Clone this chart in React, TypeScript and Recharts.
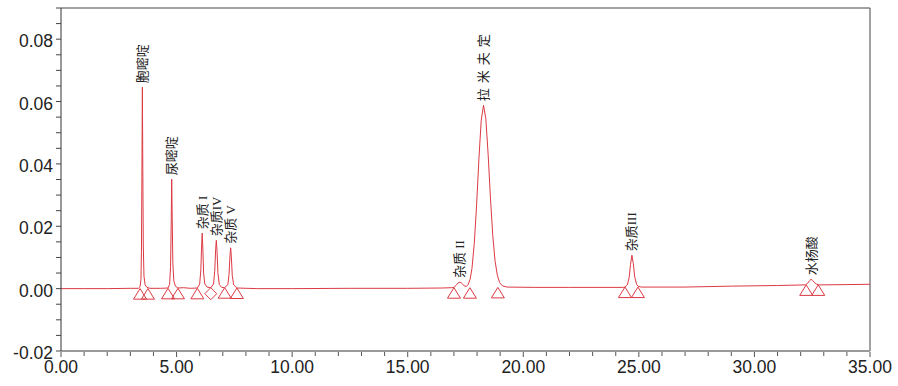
import React from "react";
import {
  ComposedChart,
  Line,
  Scatter,
  XAxis,
  YAxis,
  ReferenceLine,
} from "recharts";

// chromatogram trace: [time (min), signal (AU)]
const trace: [number, number][] = [
  [0, 0.0], [1.0, 0.0], [2.0, 0.0], [3.0, 0.0001], [3.35, 0.0001],
  [3.42, 0.0006], [3.46, 0.003], [3.48, 0.012], [3.5, 0.036], [3.52, 0.0646],
  [3.54, 0.038], [3.56, 0.014], [3.59, 0.004], [3.64, 0.0012], [3.72, 0.0004],
  [3.85, 0.0001], [4.3, 0.0001], [4.63, 0.0002], [4.7, 0.0014], [4.74, 0.007],
  [4.77, 0.022], [4.79, 0.0351], [4.81, 0.023], [4.84, 0.008], [4.88, 0.0025],
  [4.95, 0.0008], [5.06, 0.0002], [5.3, 0.0003], [5.6, 0.0001], [5.9, 0.0002],
  [6.0, 0.0015], [6.05, 0.006], [6.08, 0.013], [6.11, 0.0178], [6.14, 0.012],
  [6.17, 0.005], [6.22, 0.0015], [6.32, 0.0005], [6.48, 0.0003], [6.6, 0.0015],
  [6.65, 0.0055], [6.69, 0.0125], [6.72, 0.0155], [6.75, 0.012], [6.79, 0.0048],
  [6.85, 0.0013], [6.95, 0.0004], [7.08, 0.0003], [7.22, 0.0013], [7.27, 0.0045],
  [7.31, 0.0105], [7.34, 0.0131], [7.37, 0.0102], [7.41, 0.0042], [7.47, 0.0012],
  [7.61, 0.0002], [8.5, 0.0], [10, 0.0], [12.5, 0.0001], [15, 0.0001],
  [16.5, 0.0002], [16.9, 0.0003], [17.0, 0.0004], [17.1, 0.0011], [17.18, 0.0018],
  [17.26, 0.0021], [17.34, 0.0017], [17.44, 0.0009], [17.54, 0.0007], [17.62, 0.0014],
  [17.7, 0.003], [17.78, 0.0065], [17.88, 0.0145], [17.98, 0.0268], [18.08, 0.0415],
  [18.18, 0.054], [18.28, 0.0588], [18.38, 0.0545], [18.48, 0.043], [18.58, 0.029],
  [18.68, 0.017], [18.78, 0.0088], [18.88, 0.0042], [18.98, 0.0019], [19.1, 0.0009],
  [19.3, 0.0005], [20.5, 0.0004], [22, 0.0004], [24.3, 0.0004], [24.4, 0.0005],
  [24.5, 0.0012], [24.58, 0.0035], [24.64, 0.0078], [24.7, 0.0107], [24.76, 0.008],
  [24.82, 0.0038], [24.9, 0.0014], [24.96, 0.0008], [25.1, 0.0005], [27, 0.0005],
  [29, 0.0008], [31, 0.001], [32.2, 0.0012], [32.3, 0.0017], [32.38, 0.0025],
  [32.45, 0.003], [32.52, 0.0026], [32.6, 0.0019], [32.7, 0.0014], [32.8, 0.0012],
  [34, 0.0013], [35, 0.0014],
];

// peak labels
const peakNames = ["胞嘧啶", "尿嘧啶", "杂质 I", "杂质IV", "杂质 V", "杂质 II", "拉米夫定", "杂质III", "水杨酸"];
const peakTimes = [3.52, 4.79, 6.11, 6.72, 7.34, 17.26, 18.28, 24.7, 32.45];
const peakTops = [0.0646, 0.0351, 0.0178, 0.0155, 0.0131, 0.0021, 0.0588, 0.0107, 0.003];

// integration marks: start/end triangles, valley diamond
const markTimes = [3.42, 3.76, 4.63, 5.06, 5.9, 6.48, 7.08, 7.61, 17.0, 17.69, 18.9, 24.4, 24.96, 32.24, 32.76];
const markLevels = [0, 0, 0.0001, 0.0001, 0.0001, 0.0003, 0.0003, 0.0002, 0.0003, 0.0003, 0.0004, 0.0005, 0.0005, 0.0012, 0.0012];
const markKinds = ["t", "t", "t", "t", "t", "d", "t", "t", "t", "t", "t", "t", "t", "t", "t"];

const xTicks = Array.from({ length: 36 }, (_, i) => i);
const yTicks = [-0.02, -0.015, -0.01, -0.005, 0, 0.005, 0.01, 0.015, 0.02, 0.025, 0.03, 0.035, 0.04, 0.045, 0.05, 0.055, 0.06, 0.065, 0.07, 0.075, 0.08, 0.085, 0.09];
const yLabeled = [-0.02, 0, 0.02, 0.04, 0.06, 0.08];

const RED = "#dc3a44";
const AXIS_FONT = "'Liberation Sans', Arial, sans-serif";
const LABEL_FONT = "'Liberation Serif', 'Noto Sans CJK SC', serif";

const traceData = trace.map(([t, v]) => ({ t, v }));
const labelData = peakNames.map((name, i) => ({ t: peakTimes[i], v: peakTops[i], name }));
const markData = markTimes.map((t, i) => ({ t, v: markLevels[i], kind: markKinds[i] }));

const XTick = (props: any) => {
  const { x, y, payload } = props;
  const major = payload.value % 5 === 0;
  return (
    <g>
      <line x1={x} x2={x} y1={y + 1} y2={y + (major ? 6 : 5)} stroke="#555" />
      {major && (
        <text x={x} y={y + 22} textAnchor="middle" fontSize={17.5} fontFamily={AXIS_FONT} fill="#222">
          {payload.value.toFixed(2)}
        </text>
      )}
    </g>
  );
};

const YTick = (props: any) => {
  const { x, y, payload } = props;
  const major = yLabeled.some((m) => Math.abs(m - payload.value) < 1e-9);
  return (
    <g>
      <line x1={x - 5} x2={x} y1={y} y2={y} stroke="#444" />
      {major && (
        <text x={x - 8} y={y + 2} textAnchor="end" dominantBaseline="central" fontSize={17.5} fontFamily={AXIS_FONT} fill="#222">
          {payload.value.toFixed(2)}
        </text>
      )}
    </g>
  );
};

const MarkShape = (props: any) => {
  const { cx, cy, payload } = props;
  if (payload.kind === "d") {
    return (
      <polygon
        points={`${cx},${cy} ${cx + 6},${cy + 6} ${cx},${cy + 12} ${cx - 6},${cy + 6}`}
        fill="none"
        stroke={RED}
      />
    );
  }
  return (
    <polygon
      points={`${cx},${cy} ${cx + 6.5},${cy + 10.5} ${cx - 6.5},${cy + 10.5}`}
      fill="none"
      stroke={RED}
    />
  );
};

const LabelShape = (props: any) => {
  const { cx, cy, payload } = props;
  const x = cx;
  const y = cy - 4;
  const spread = payload.name === "拉米夫定" ? 5 : 0;
  return (
    <text
      x={x}
      y={y}
      transform={`rotate(-90 ${x} ${y})`}
      textAnchor="start"
      dominantBaseline="central"
      fontSize={13}
      letterSpacing={spread}
      fontFamily={LABEL_FONT}
      fill="#222"
    >
      {payload.name}
    </text>
  );
};

export default function App() {
  return (
    <div style={{ position: "absolute", left: 0, top: 0, background: "#fff" }}>
      <ComposedChart
        width={898}
        height={386}
        data={traceData}
        margin={{ top: 8, right: 28, left: 0, bottom: 0 }}
      >
        <XAxis
          dataKey="t"
          type="number"
          domain={[0, 35]}
          ticks={xTicks}
          interval={0}
          height={35}
          tickSize={0}
          tickMargin={0}
          tick={<XTick />}
          axisLine={{ stroke: "#9a9a9a", strokeWidth: 2 }}
          allowDataOverflow
        />
        <YAxis
          type="number"
          domain={[-0.02, 0.09]}
          ticks={yTicks}
          interval={0}
          width={61}
          tickSize={0}
          tickMargin={0}
          tick={<YTick />}
          axisLine={{ stroke: "#333" }}
          allowDataOverflow
        />
        <ReferenceLine y={0.09} stroke="#444" />
        <ReferenceLine x={35} stroke="#444" />
        <Line
          type="linear"
          dataKey="v"
          stroke={RED}
          strokeWidth={1}
          dot={false}
          activeDot={false}
          isAnimationActive={false}
        />
        <Scatter data={markData} dataKey="v" shape={<MarkShape />} isAnimationActive={false} />
        <Scatter data={labelData} dataKey="v" shape={<LabelShape />} isAnimationActive={false} />
      </ComposedChart>
    </div>
  );
}
